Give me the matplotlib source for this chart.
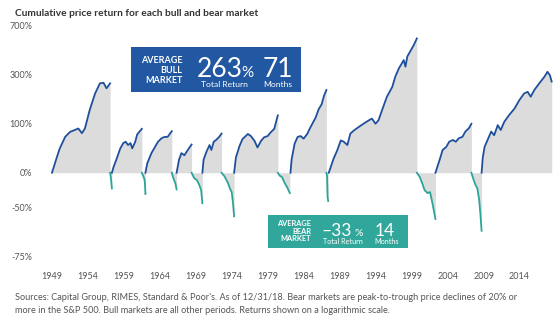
import matplotlib
matplotlib.use('Agg')
import matplotlib.pyplot as plt
from matplotlib.patches import Rectangle
from matplotlib.ticker import NullLocator
import numpy as np

plt.rcParams['font.family'] = ['Lato', 'DejaVu Sans']

W, H = 553, 324

# bull markets: start (year, month), months after start, cumulative price return in %
bull_starts = [(1949, 6), (1957, 10), (1962, 6), (1966, 10), (1970, 5),
               (1974, 10), (1982, 8), (1987, 12), (2002, 10), (2009, 3)]
bull_months = [
    [0, 8, 13, 22, 30, 38, 44, 50, 55, 63, 72, 80, 86, 91, 97],
    [0, 3, 8, 14, 19, 23, 27, 31, 34, 39, 42, 46, 50],
    [0, 3, 10, 16, 21, 27, 32, 37, 41, 44],
    [0, 4, 8, 13, 17, 21, 25],
    [0, 2, 7, 12, 15, 19, 23, 28, 32],
    [0, 3, 9, 14, 23, 28, 34, 39, 45, 50, 56, 61, 67, 72, 73],
    [0, 2, 7, 12, 17, 22, 28, 33, 42, 47, 52, 56, 60],
    [0, 8, 14, 20, 25, 31, 36, 42, 50, 58, 67, 72, 78, 83, 89, 97, 106, 111,
     117, 122, 125, 128, 131, 137, 142, 147],
    [0, 7, 12, 18, 23, 29, 34, 39, 45, 50, 56, 60],
    [0, 2, 5, 10, 16, 21, 27, 32, 38, 46, 55, 63, 71, 77, 82, 88, 96, 105,
     110, 114, 117],
]
bull_returns = [
    [0, 24, 41, 66, 78, 83, 87, 75, 87, 143, 207, 254, 257, 230, 254],
    [0, 9, 22, 41, 52, 55, 48, 52, 41, 55, 71, 79, 86],
    [0, 14, 32, 44, 55, 63, 66, 66, 74, 80],
    [0, 20, 32, 28, 35, 42, 49],
    [0, 20, 35, 48, 38, 55, 59, 66, 74],
    [0, 24, 46, 61, 73, 68, 57, 43, 57, 65, 68, 77, 86, 119, 125],
    [0, 21, 51, 66, 68, 62, 73, 89, 118, 145, 163, 197, 222],
    [0, 22, 37, 58, 55, 48, 74, 82, 91, 100, 110, 115, 100, 110, 143, 193,
     237, 289, 338, 370, 392, 348, 417, 466, 510, 568],
    [0, 20, 38, 44, 55, 59, 55, 63, 66, 79, 88, 100],
    [0, 24, 44, 59, 79, 70, 96, 83, 106, 126, 148, 179, 207, 214, 193, 222,
     253, 289, 317, 297, 263],
]

# bear markets
bear_starts = [(1957, 7), (1961, 12), (1966, 2), (1968, 11), (1973, 1),
               (1980, 11), (1987, 8), (2000, 3), (2007, 10)]
bear_months = [
    [0, 1, 2, 3],
    [0, 2, 4, 5, 6],
    [0, 2, 4, 6, 8],
    [0, 4, 9, 13, 16, 18],
    [0, 5, 11, 14, 17, 19, 21],
    [0, 3, 7, 11, 15, 20],
    [0, 1, 2, 3],
    [0, 5, 9, 13, 18, 22, 26, 31],
    [0, 3, 7, 10, 13, 15, 17],
]
bear_returns = [
    [0, -5, -12, -20],
    [0, -4, -8, -12, -26],
    [0, -6, -10, -14, -21],
    [0, -7, -10, -16, -22, -35],
    [0, -5, -14, -20, -24, -34, -46],
    [0, -4, -6, -13, -18, -25],
    [0, -4, -29, -33],
    [0, -6, -14, -22, -25, -24, -35, -48],
    [0, -8, -16, -20, -32, -44, -56],
]

year_labels = [1949, 1954, 1959, 1964, 1969, 1974, 1979, 1984, 1989, 1994,
               1999, 2004, 2009, 2014]
ytick_labels = ['700%', '300%', '100%', '0%', '-50%', '-75%']

BLUE = '#1f4f9b'
TEAL = '#2ba598'
GRAY_FILL = '#dcdcdc'
TXT = '#555555'

fig = plt.figure(figsize=(W / 100, H / 100), dpi=100)
# axes placed in pixels: left 42, right 553, top 18, bottom 262
ax = fig.add_axes([42 / W, (H - 262) / H, (W - 42) / W, 244 / H])


def draw(starts, months, returns, color):
    for (yr, mo), m, r in zip(starts, months, returns):
        x = yr + (mo - 1) / 12 + np.array(m) / 12
        y = 1 + np.array(r) / 100
        ax.fill_between(x, 1, y, color=GRAY_FILL, lw=0, zorder=1)
        ax.plot(x, y, color=color, lw=1.3, zorder=3, solid_joinstyle='round')


draw(bull_starts, bull_months, bull_returns, BLUE)
draw(bear_starts, bear_months, bear_returns, TEAL)

ax.set_yscale('log', base=2)
ax.set_ylim(0.283, 8.92)
ax.set_xlim(1948.03, 2019.1)
ax.yaxis.set_minor_locator(NullLocator())
ax.set_yticks([8, 4, 2, 1, 2 ** -0.7, 2 ** -1.7], ytick_labels)
ax.set_xticks([y + 0.45 for y in year_labels], [str(y) for y in year_labels])
ax.tick_params(length=0, labelsize=6.5, labelcolor=TXT)
ax.tick_params(axis='y', pad=7)
ax.tick_params(axis='x', pad=7)
for s in ax.spines.values():
    s.set_visible(False)


def ftext(x, y, s, **kw):
    fig.text(x / W, 1 - y / H, s, **kw)


def box(x0, y0, x1, y1, color):
    fig.add_artist(Rectangle((x0 / W, 1 - y1 / H), (x1 - x0) / W, (y1 - y0) / H,
                             transform=fig.transFigure, color=color, lw=0, zorder=5))


ftext(15, 13, 'Cumulative price return for each bull and bear market',
      fontsize=7.3, fontweight='bold', color='#333333', va='center')

# average bull box
box(130.7, 47, 300.7, 92, '#2257a2')
ftext(182.5, 70.5, 'AVERAGE\nBULL\nMARKET', ha='right', va='center', fontsize=6.5,
      fontweight='bold', color='white', linespacing=1.1, zorder=6)
ftext(196.5, 77, '263', fontsize=19, color='white', va='baseline', zorder=6)
ftext(241.5, 77, '%', fontsize=11, color='white', va='baseline', zorder=6)
ftext(224, 84.3, 'Total Return', fontsize=6.1, color='white', ha='center',
      va='center', zorder=6)
ftext(263, 77, '71', fontsize=19, color='white', va='baseline', zorder=6)
ftext(278, 84.3, 'Months', fontsize=6.1, color='white', ha='center',
      va='center', zorder=6)

# average bear box
box(267.7, 214.7, 407.7, 248, '#31a69b')
ftext(311, 231, 'AVERAGE\nBEAR\nMARKET', ha='right', va='center', fontsize=5.3,
      fontweight='bold', color='white', linespacing=1.05, zorder=6)
ftext(321.5, 236.3, '\u201333', fontsize=12.5, color='white', va='baseline', zorder=6)
ftext(354.5, 236.3, '%', fontsize=7.5, color='white', va='baseline', zorder=6)
ftext(342.5, 242, 'Total Return', fontsize=5.2, color='white', ha='center',
      va='center', zorder=6)
ftext(374.5, 236.3, '14', fontsize=12.5, color='white', va='baseline', zorder=6)
ftext(386.7, 242, 'Months', fontsize=5.2, color='white', ha='center',
      va='center', zorder=6)

ftext(15, 297, "Sources: Capital Group, RIMES, Standard & Poor's. As of 12/31/18. "
      "Bear markets are peak-to-trough price declines of 20% or",
      fontsize=6.55, color=TXT, va='center')
ftext(15, 310.5, "more in the S&P 500. Bull markets are all other periods. "
      "Returns shown on a logarithmic scale.",
      fontsize=6.55, color=TXT, va='center')

fig.savefig('out.png', dpi=100)
